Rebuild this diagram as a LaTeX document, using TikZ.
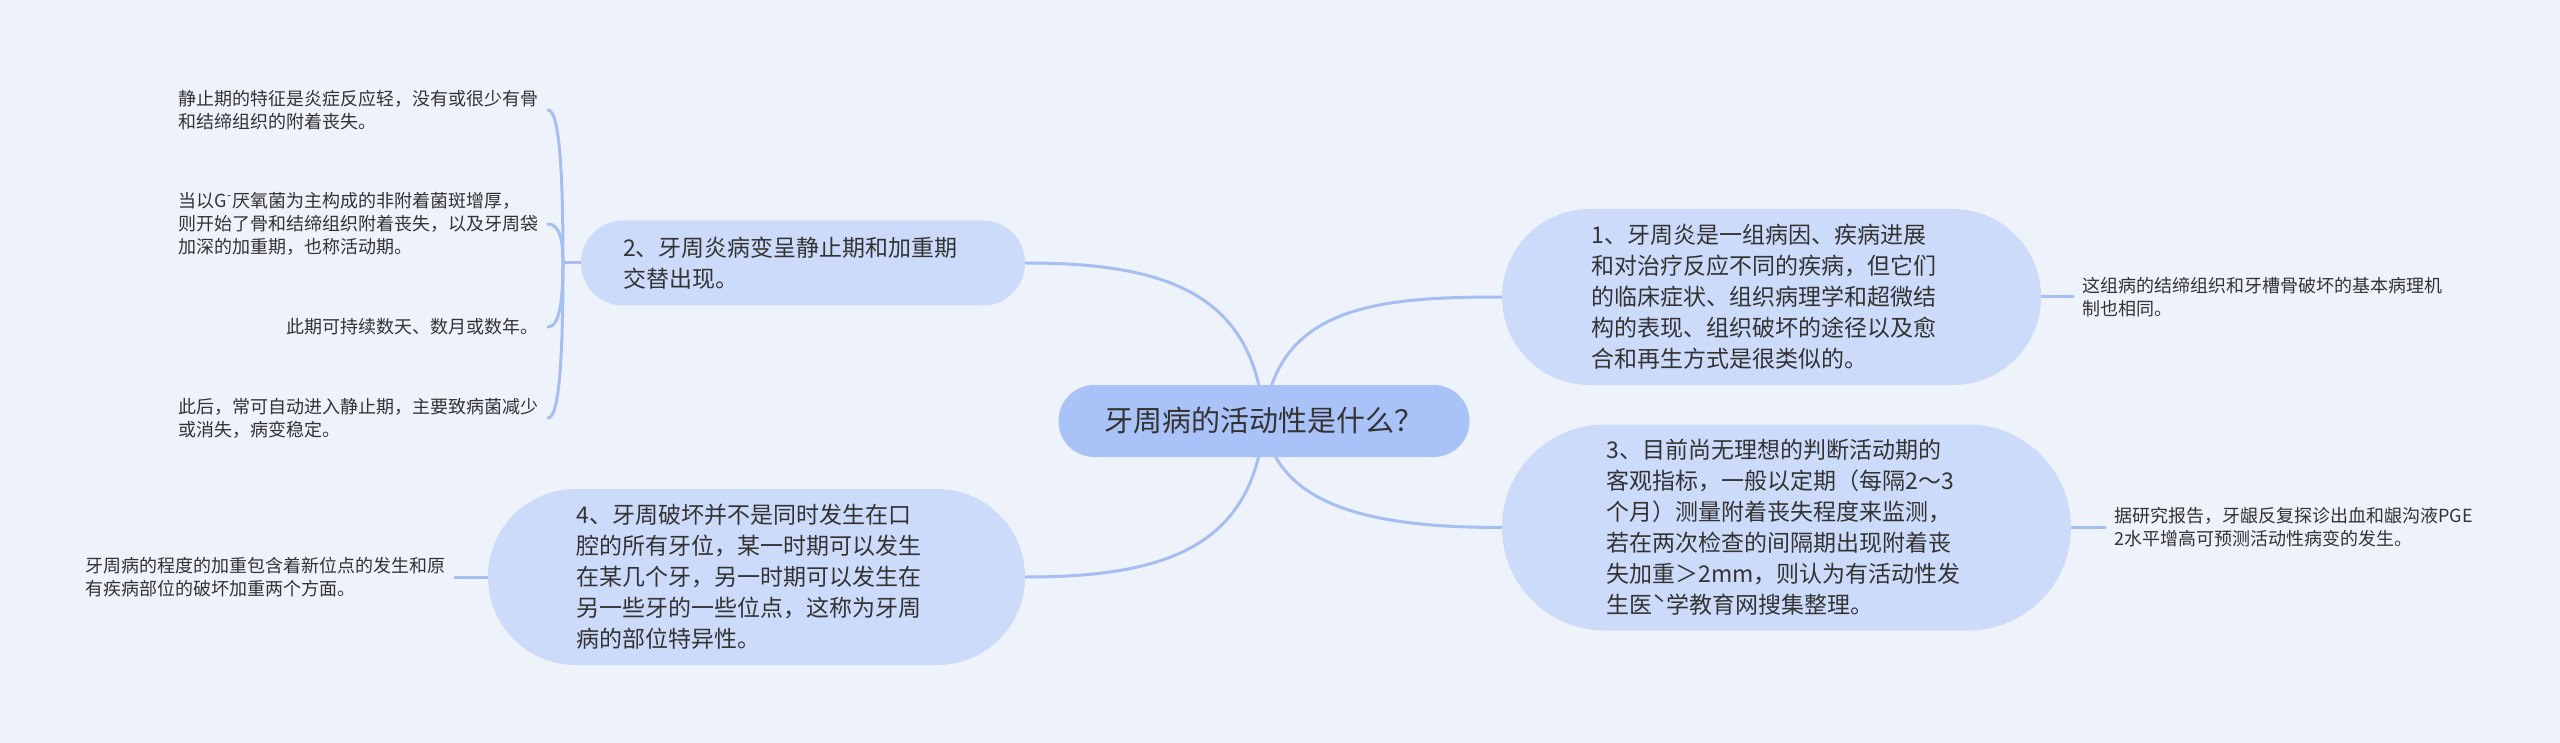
\documentclass[tikz,border=0pt]{standalone}
\usepackage{fontspec}
\newfontfamily\cjk{Noto Sans CJK SC}
\definecolor{bgc}{HTML}{EEF2FB}
\definecolor{rootfill}{HTML}{A9C2F7}
\definecolor{topicfill}{HTML}{CDDBFA}
\definecolor{linec}{HTML}{A6BEF1}
\definecolor{textc}{HTML}{333333}
\pgfdeclarelayer{bg}
\pgfdeclarelayer{edges}
\pgfsetlayers{bg,edges,main}
\begin{document}
\begin{tikzpicture}[x=0.5pt,y=-0.5pt,
  rootbox/.style={fill=rootfill, draw=none, text=textc, font=\cjk\fontsize{14.5}{18}\selectfont, inner sep=0pt, align=center},
  topic/.style={fill=topicfill, draw=none, text=textc, font=\cjk\fontsize{11.5}{15.5}\selectfont, text width=180pt, align=left, inner sep=0pt},
  leaf/.style={text=textc, font=\cjk\fontsize{9}{11.5}\selectfont, align=left, inner xsep=4.5pt, inner ysep=2pt},
  conn/.style={draw=linec, line width=1.5pt, line cap=round}
]
\useasboundingbox (0,0) rectangle (2560,743);
\begin{pgfonlayer}{bg}
\fill[bgc] (0,0) rectangle (2560,743);
\end{pgfonlayer}

% root
\node[rootbox, minimum width=205.5pt, minimum height=36pt, rounded corners=17.9pt] (root) at (1264,421) {牙周病的活动性是什么？};

% topics
\node[topic, minimum width=222pt, minimum height=42.5pt, rounded corners=21.1pt] (n2) at (803,263)
  {2、牙周炎病变呈静止期和加重期\\交替出现。};
\node[topic, minimum width=269.5pt, minimum height=88pt, rounded corners=43.9pt] (n1) at (1771.5,297)
  {1、牙周炎是一组病因、疾病进展\\和对治疗反应不同的疾病，但它们\\的临床症状、组织病理学和超微结\\构的表现、组织破坏的途径以及愈\\合和再生方式是很类似的。};
\node[topic, minimum width=284.5pt, minimum height=103pt, rounded corners=51.4pt] (n3) at (1786.5,527.5)
  {3、目前尚无理想的判断活动期的\\客观指标，一般以定期（每隔2～3\\个月）测量附着丧失程度来监测，\\若在两次检查的间隔期出现附着丧\\失加重＞2mm，则认为有活动性发\\生医ˋ学教育网搜集整理。};
\node[topic, minimum width=268.5pt, minimum height=88pt, rounded corners=43.9pt] (n4) at (756.5,577)
  {4、牙周破坏并不是同时发生在口\\腔的所有牙位，某一时期可以发生\\在某几个牙，另一时期可以发生在\\另一些牙的一些位点，这称为牙周\\病的部位特异性。};

% leaves
\node[leaf, anchor=west] (l1) at (2073,297) {这组病的结缔组织和牙槽骨破坏的基本病理机\\制也相同。};
\node[leaf, anchor=west] (l3) at (2105,527.5) {据研究报告，牙龈反复探诊出血和龈沟液PGE\\2水平增高可预测活动性病变的发生。};
\node[leaf, anchor=east] (l4) at (455,577) {牙周病的程度的加重包含着新位点的发生和原\\有疾病部位的破坏加重两个方面。};
\node[leaf, anchor=east] (l2a) at (548,110) {静止期的特征是炎症反应轻，没有或很少有骨\\和结缔组织的附着丧失。};
\node[leaf, anchor=east] (l2b) at (548,224) {当以G\textsuperscript{-}厌氧菌为主构成的非附着菌斑增厚，\\则开始了骨和结缔组织附着丧失，以及牙周袋\\加深的加重期，也称活动期。};
\node[leaf, anchor=east] (l2c) at (548,327) {此期可持续数天、数月或数年。};
\node[leaf, anchor=east] (l2d) at (548,418) {此后，常可自动进入静止期，主要致病菌减少\\或消失，病变稳定。};

\coordinate (j2) at (563,263);

\begin{pgfonlayer}{edges}
\draw[conn] (root.center) .. controls (1255,290) and (1160,263) .. (n2.east);
\draw[conn] (root.center) .. controls (1276,305) and (1380,297) .. (n1.west);
\draw[conn] (root.center) .. controls (1254,550) and (1160,577) .. (n4.east);
\draw[conn] (root.center) .. controls (1276,510) and (1380,527.5) .. (n3.west);
\draw[conn] (n1.east) -- (l1.west);
\draw[conn] (n3.east) -- (l3.west);
\draw[conn] (n4.west) -- (l4.east);
\draw[conn] (n2.west) -- (j2);
\draw[conn] (l2a.east) .. controls (560,110) and (563,179) .. (j2);
\draw[conn] (l2b.east) .. controls (560,224) and (563,241.5) .. (j2);
\draw[conn] (l2c.east) .. controls (560,327) and (563,298) .. (j2);
\draw[conn] (l2d.east) .. controls (560,418) and (563,348) .. (j2);
\end{pgfonlayer}
\end{tikzpicture}
\end{document}
